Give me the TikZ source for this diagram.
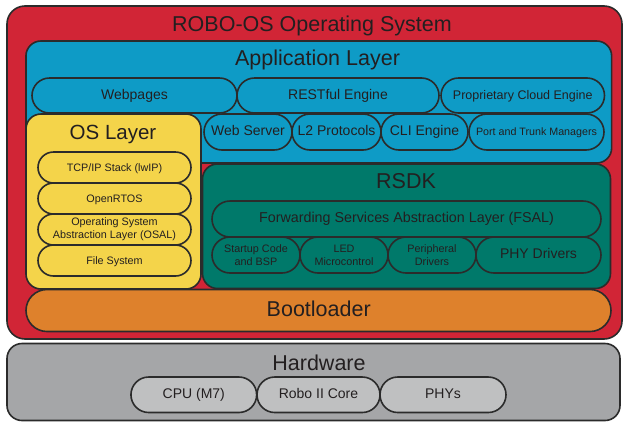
\documentclass[tikz,border=0pt]{standalone}
\usepackage{fontspec}
\setmainfont{Liberation Sans}
\usetikzlibrary{shapes.misc}
\definecolor{cRed}{HTML}{D12536}
\definecolor{cBlue}{HTML}{0E9BC6}
\definecolor{cYellow}{HTML}{F4D44A}
\definecolor{cTeal}{HTML}{00796A}
\definecolor{cOrange}{HTML}{DE812C}
\definecolor{cGray}{HTML}{A5A6A8}
\definecolor{cLGray}{HTML}{BFC0C1}
\definecolor{cLine}{HTML}{2B2B2B}
\definecolor{cText}{HTML}{231F20}
\tikzset{
  box/.style={draw=cLine, line width=1.6pt, rectangle, rounded corners=15pt, inner sep=0pt},
  pill/.style={draw=cLine, line width=1.6pt, rounded rectangle, inner sep=0pt, text=cText, align=center},
  capc/.style={text height=0.72em, text depth=0pt},
  ttl/.style={anchor=base, inner sep=0pt, text=cText, font=\fontsize{21.5}{24}\selectfont},
  fbig/.style={font=\fontsize{14}{16}\selectfont},
  fsmall/.style={font=\fontsize{10.8}{13}\selectfont},
}
\begin{document}
\begin{tikzpicture}[x=1pt, y=-1pt]
\useasboundingbox (0,0) rectangle (623,421);
\fill[white] (0,0) rectangle (623,421);
% big boxes
\node[box, fill=cRed, rounded corners=18pt, minimum width=615pt, minimum height=333pt] (os) at (314.5,172.5) {};
\node[box, fill=cBlue, minimum width=585.7pt, minimum height=122pt] (app) at (318.8,102) {};
\node[box, fill=cYellow, minimum width=175pt, minimum height=175pt] (osl) at (113.5,201.5) {};
\node[box, fill=cTeal, minimum width=408pt, minimum height=124.5pt] (rsdk) at (406.5,226.25) {};
\node[pill, fill=cOrange, minimum width=585pt, minimum height=42pt] (boot) at (318.5,310.5) {};
\node[box, fill=cGray, minimum width=613pt, minimum height=77pt] (hw) at (313.5,382) {};
% titles
\node[ttl] (tOS) at (312,31) {ROBO-OS Operating System};
\node[ttl] (tApp) at (317.5,65) {Application Layer};
\node[ttl, font=\fontsize{20.5}{24}\selectfont] (tOSL) at (113,139) {OS Layer};
\node[ttl] (tRSDK) at (406,188) {RSDK};
\node[ttl] (tBoot) at (318.7,316.7) {Bootloader};
\node[ttl] (tHW) at (319,370) {Hardware};
% application layer pills
\node[pill, fill=cBlue, capc, fbig, minimum width=205pt, minimum height=35pt] (web) at (134.5,95.5) {Webpages};
\node[pill, fill=cBlue, capc, fbig, minimum width=202pt, minimum height=35pt] (rest) at (338,95.5) {RESTful Engine};
\node[pill, fill=cBlue, capc, font=\fontsize{12.5}{14}\selectfont, minimum width=163.5pt, minimum height=35pt] (cloud) at (522.75,95.5) {Proprietary Cloud Engine};
\node[pill, fill=cBlue, capc, fbig, minimum width=88pt, minimum height=36pt] (wsrv) at (248,132) {Web Server};
\node[pill, fill=cBlue, capc, fbig, minimum width=89pt, minimum height=36pt] (l2) at (336.5,132) {L2 Protocols};
\node[pill, fill=cBlue, capc, fbig, minimum width=87pt, minimum height=36pt] (cli) at (424.5,132) {CLI Engine};
\node[pill, fill=cBlue, capc, font=\fontsize{10.7}{13}\selectfont, minimum width=135pt, minimum height=36pt] (port) at (536.5,132) {Port and Trunk Managers};
% OS layer pills
\node[pill, fill=cYellow, capc, fsmall, minimum width=153pt, minimum height=31pt] (tcp) at (114.5,167.5) {TCP/IP Stack (lwIP)};
\node[pill, fill=cYellow, capc, fsmall, minimum width=153pt, minimum height=31pt] (rtos) at (114.5,198.5) {OpenRTOS};
\node[pill, fill=cYellow, fsmall, minimum width=153pt, minimum height=31pt] (osal) at (114.5,229.5) {Operating System\\Abstraction Layer (OSAL)};
\node[pill, fill=cYellow, capc, fsmall, minimum width=153pt, minimum height=31pt] (fs) at (114.5,260.5) {File System};
% RSDK pills
\node[pill, fill=cTeal, capc, font=\fontsize{14.3}{16}\selectfont, minimum width=389pt, minimum height=36pt] (fsal) at (406.5,219) {Forwarding Services Abstraction Layer (FSAL)};
\node[pill, fill=cTeal, fsmall, minimum width=88pt, minimum height=36pt] (start) at (256,255) {Startup Code\\and BSP};
\node[pill, fill=cTeal, fsmall, minimum width=88pt, minimum height=36pt] (led) at (344,255) {LED\\Microcontrol};
\node[pill, fill=cTeal, fsmall, minimum width=88pt, minimum height=36pt] (per) at (432,255) {Peripheral\\Drivers};
\node[pill, fill=cTeal, capc, fbig, minimum width=125pt, minimum height=36pt] (phyd) at (538.5,255) {PHY Drivers};
% hardware pills
\node[pill, fill=cLGray, capc, fbig, minimum width=125.7pt, minimum height=35.5pt] (cpu) at (193.8,394.75) {CPU (M7)};
\node[pill, fill=cLGray, capc, fbig, minimum width=123pt, minimum height=35.5pt] (robo) at (318.5,394.75) {Robo II Core};
\node[pill, fill=cLGray, capc, fbig, minimum width=126pt, minimum height=35.5pt] (phys) at (443,394.75) {PHYs};
\end{tikzpicture}
\end{document}
